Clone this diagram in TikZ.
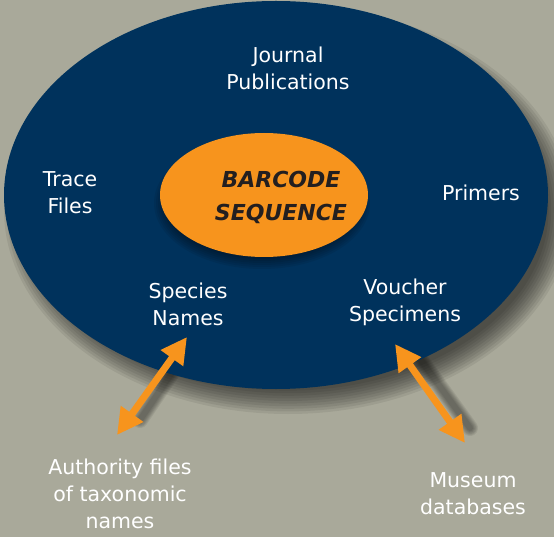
\documentclass[tikz,border=0pt]{standalone}
\usepackage{fontspec}
\setmainfont{DejaVu Sans}
\usetikzlibrary{arrows.meta, shapes.geometric}
\definecolor{bgrey}{RGB}{169,169,154}
\definecolor{navy}{RGB}{0,50,92}
\definecolor{amber}{RGB}{247,148,29}
\definecolor{ink}{RGB}{35,31,32}
\tikzset{lbl/.style = {text=white,align=center,font=\fontsize{20.5}{27}\selectfont}}
\tikzset{core/.style = {text=ink,align=center,font=\fontsize{22}{33}\selectfont\bfseries\itshape}}
\tikzset{edge/.style = {{Triangle[length=26pt,width=26pt]}-{Triangle[length=26pt,width=26pt]},line width=7pt,draw=amber}}
\tikzset{shade/.style = {black,opacity=0.07}}

\begin{document}
\begin{tikzpicture}[x=1pt,y=-1pt]
            \fill[bgrey] (0,0) rectangle (554,537);
            \useasboundingbox (0,0) rectangle (554,537);
            % shadows
            \foreach \k in {0,...,9}
              \fill[shade] (288,210) ellipse ({284-2.6*\k} and {204-2.6*\k});
            \foreach \k in {0,...,5}
              {\draw[shade,line width={(16-2*\k)*1pt},line cap=round] (186,352) -- (140,420);
               \draw[shade,line width={(16-2*\k)*1pt},line cap=round] (415,352) -- (470,428);}
            \fill[navy] (276,195) ellipse (272 and 194);
            \foreach \k in {0,...,7}
              \fill[shade] (262,203) ellipse ({108-2*\k} and {66-2*\k});
            \node[ellipse,fill=amber,minimum width=208pt,minimum height=124pt] (bs) at (264,195) {};
            \node[core] at (281,197) {BARCODE\\SEQUENCE};
            % labels
            \node[lbl] (jp) at (288,68) {Journal\\Publications};
            \node[lbl] (tf) at (70,193) {Trace\\Files};
            \node[lbl] (pr) at (481,193) {Primers};
            \node[lbl] (sn) at (188,304) {Species\\Names};
            \node[lbl] (vs) at (405,302) {Voucher\\Specimens};
            \node[lbl] (af) at (120,494) {Authority files\\of taxonomic\\names};
            \node[lbl] (md) at (473,494) {Museum\\databases};
            % arrows
            \coordinate (a) at (187,337);
            \coordinate (b) at (117,435);
            \coordinate (c) at (395,344);
            \coordinate (d) at (465,443);
            \draw[edge] (a) -- (b);
            \draw[edge] (c) -- (d);
        \end{tikzpicture}
\end{document}
